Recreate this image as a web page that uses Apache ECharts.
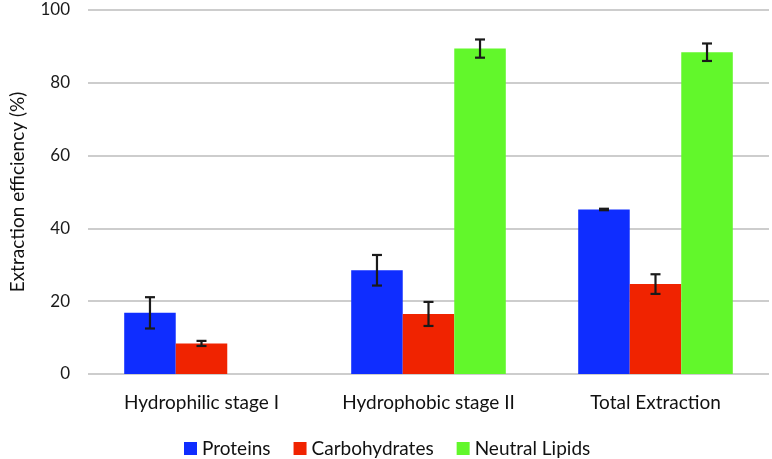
<!DOCTYPE html>
<html><head><meta charset="utf-8">
<script src="https://cdn.jsdelivr.net/npm/echarts@6/dist/echarts.min.js"></script>
<style>html,body{margin:0;padding:0;background:#fff}#c{width:772px;height:459px}</style>
</head><body><div id="c"></div>
<script>
const categories = ['Hydrophilic stage I', 'Hydrophobic stage II', 'Total Extraction'];
const seriesNames = ['Proteins', 'Carbohydrates', 'Neutral Lipids'];
const proteins = [16.8, 28.5, 45.2];
const carbohydrates = [8.4, 16.5, 24.7];
const neutralLipids = [null, 89.4, 88.4];
const proteinsErr = [4.3, 4.2, 0.2];
const carbohydratesErr = [0.7, 3.3, 2.7];
const neutralLipidsErr = [null, 2.5, 2.4];
const yTicks = [0, 20, 40, 60, 80, 100];

const colors = ['#0f2dff', '#f02300', '#62f72b'];
const values = [proteins, carbohydrates, neutralLipids];
const errs = [proteinsErr, carbohydratesErr, neutralLipidsErr];
const barFrac = 0.227;
const FONT = 'Lato';

const series = [];
values.forEach((v, i) => {
  series.push({
    name: seriesNames[i], type: 'bar', data: v, barWidth: (barFrac*100)+'%', barGap: '0%',
    itemStyle: { color: colors[i] }, z: 2
  });
});
values.forEach((v, i) => {
  const data = [];
  v.forEach((val, k) => { if (val != null) data.push([k, val, errs[i][k]]); });
  series.push({
    type: 'custom', name: seriesNames[i] + ' err', data: data, z: 5, silent: true,
    encode: { x: 0, y: 1 },
    renderItem: function (params, api) {
      const k = api.value(0), val = api.value(1), e = api.value(2);
      const band = api.size([1, 0])[0];
      const bw = band * barFrac;
      const c = api.coord([k, val]);
      const x = c[0] + (i - 1) * bw;
      const yt = api.coord([k, val + e])[1];
      const yb = api.coord([k, val - e])[1];
      const hw = 5;
      const st = { stroke: '#1a1a1a', lineWidth: 2.2 };
      return { type: 'group', children: [
        { type: 'line', shape: { x1: x, y1: yt, x2: x, y2: yb }, style: st },
        { type: 'line', shape: { x1: x - hw, y1: yt, x2: x + hw, y2: yt }, style: st },
        { type: 'line', shape: { x1: x - hw, y1: yb, x2: x + hw, y2: yb }, style: st }
      ]};
    }
  });
});

const chart = echarts.init(document.getElementById('c'));
chart.setOption({
  animation: false,
  backgroundColor: '#fff',
  grid: { left: 81, right: 3, top: 10, bottom: 85 },
  legend: {
    data: seriesNames, left: 179, top: 434, itemWidth: 13, itemHeight: 13, itemGap: 23,
    icon: 'rect',
    textStyle: { fontFamily: FONT, fontSize: 19, color: '#111' }
  },
  xAxis: {
    type: 'category', data: categories,
    axisLine: { show: false }, axisTick: { show: false },
    axisLabel: { fontFamily: FONT, fontSize: 19, color: '#111', margin: 19 }
  },
  yAxis: {
    type: 'value', min: yTicks[0], max: yTicks[yTicks.length-1], interval: 20,
    name: 'Extraction efficiency (%)', nameLocation: 'middle', nameGap: 61,
    nameTextStyle: { fontFamily: FONT, fontSize: 19, color: '#111' },
    axisLine: { show: false }, axisTick: { show: false },
    axisLabel: { fontFamily: FONT, fontSize: 17, color: '#1a1a1a', margin: 18 },
    splitLine: { lineStyle: { color: '#bdbdbd', width: 1.5 } }
  },
  series: series
});
</script></body></html>
